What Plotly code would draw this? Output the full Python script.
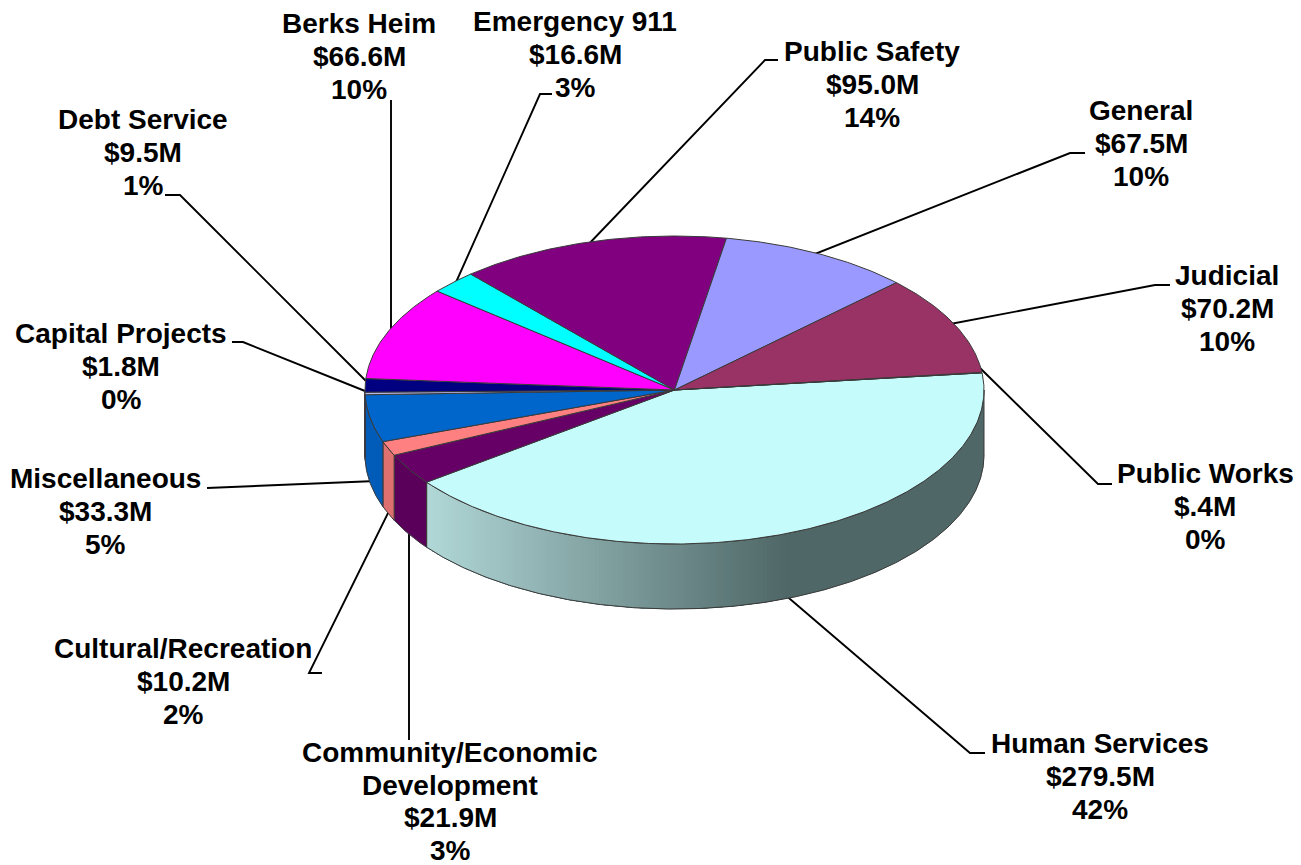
import numpy as np
import plotly.graph_objects as go

# ---- data (clockwise from Human Services) ----
categories = ["Human Services", "Community/Economic<br>Development", "Cultural/Recreation", "Miscellaneous",
              "Capital Projects", "Debt Service", "Berks Heim", "Emergency 911", "Public Safety", "General",
              "Judicial", "Public Works"]
values = [279.5, 21.9, 10.2, 33.3, 1.8, 9.5, 66.6, 16.6, 95.0, 67.5, 70.2, 0.4]
amounts = ["$279.5M", "$21.9M", "$10.2M", "$33.3M", "$1.8M", "$9.5M", "$66.6M", "$16.6M", "$95.0M",
           "$67.5M", "$70.2M", "$.4M"]
percents = ["42%", "3%", "2%", "5%", "0%", "1%", "10%", "3%", "14%", "10%", "10%", "0%"]

# ---- styles ----
top_colors = ["#C6FBFB", "#660066", "#FF8080", "#0066CC", "#B8B8E8", "#000080", "#FF00FF", "#00FFFF",
              "#800080", "#9999FF", "#993366", "#B0E0E0"]
wall_colors = ["#4F6767", "#5A005A", "#DF7070", "#005CB8", "#9090C0", "#000066", "#CC00CC", "#00CCCC",
               "#660066", "#7A7ACC", "#7A2850", "#4F6767"]
EDGE = "#3A3A3A"

# ---- pie geometry (pixels of the 1301x865 plot area) ----
CX, CY, RX, RY, DEPTH = 674.5, 390.0, 309.5, 154.0, 65.0
START_DEG = 83.6
LINE_PITCH = 32.6
FONT_SIZE = 28

label_pos = [(1100, 776.5), (450, 801.5), (183, 681.5), (105, 511.5), (121, 366.5), (143, 152.5),
             (359, 56.5), (575, 54.5), (872, 84.5), (1141, 143.5), (1227, 308.5), (1205, 506.5)]
leaders = [[(985, 753), (970, 753), (776, 587)],
           [(409, 740), (409, 525)],
           [(322, 673), (309, 673), (392, 505)],
           [(207, 488), (376, 481)],
           [(232, 342), (243, 342), (370, 393)],
           [(165, 195), (180, 195), (370, 385)],
           [(391, 100), (391, 340)],
           [(552, 94), (540, 94), (453, 289)],
           [(778, 60), (765, 60), (585, 248)],
           [(1085, 153), (1070, 153), (810, 256)],
           [(1170, 285), (1155, 285), (945, 325)],
           [(1112, 484), (1098, 484), (980, 368)]]


def ex(t):
    return CX + RX * np.sin(np.radians(t))


def ey(t, d=0.0):
    return CY - RY * np.cos(np.radians(t)) + d


def arc(a, b):
    return np.linspace(a, b, max(2, int(abs(b - a) * 2) + 2))


fig = go.Figure()


def poly(xs, ys, fill=None, line=None, width=1.0):
    fig.add_trace(go.Scatter(
        x=list(xs), y=list(ys), mode="lines",
        fill="toself" if fill else None, fillcolor=fill,
        line=dict(color=line or fill, width=width),
        hoverinfo="skip", showlegend=False))


for pts in leaders:
    poly([p[0] for p in pts], [p[1] for p in pts], line="#000000", width=1.9)

total = sum(values)
edges = START_DEG + np.cumsum([0] + [v / total * 360 for v in values])


def wall_shape(a, b):
    t = arc(a, b)
    xs = np.r_[ex(t), ex(t[::-1])]
    ys = np.r_[ey(t), ey(t[::-1], DEPTH)]
    return xs, ys


GRAD_LIGHT = np.array([178, 216, 216])
GRAD_DARK = np.array([79, 103, 103])
GRAD_X0, GRAD_X1 = 427.0, 790.0

for i in range(len(values)):
    a, b = max(edges[i], 90.0), min(edges[i + 1], 270.0)
    if b <= a:
        continue
    xs, ys = wall_shape(a, b)
    poly(xs, ys, fill=wall_colors[i], width=0.5)
    if i == 0:
        # shaded wall: solid dark at right, fading to light at left; strips overlap to avoid seams
        first = 180 - np.degrees(np.arcsin((GRAD_X1 - CX) / RX))
        for s in np.arange(first, b, 0.75):
            f = np.clip((ex(s) - GRAD_X0) / (GRAD_X1 - GRAD_X0), 0, 1)
            c = GRAD_LIGHT + (GRAD_DARK - GRAD_LIGHT) * f
            col = "rgb(%d,%d,%d)" % tuple(c)
            sx, sy = wall_shape(s, b)
            poly(sx, sy, fill=col, width=0)
    poly(np.r_[xs, xs[0]], np.r_[ys, ys[0]], line=EDGE, width=1.0)

for i in range(len(values)):
    t = arc(edges[i], edges[i + 1])
    poly(np.r_[CX, ex(t), CX], np.r_[CY, ey(t), CY], fill=top_colors[i], line=EDGE, width=1.0)

annotations = []
for i in range(len(values)):
    lines = categories[i].split("<br>") + [amounts[i], percents[i]]
    for k, text in enumerate(lines):
        annotations.append(dict(
            x=label_pos[i][0], y=label_pos[i][1] + (k - (len(lines) - 1) / 2) * LINE_PITCH,
            xref="x", yref="y", text="<b>%s</b>" % text,
            showarrow=False, xanchor="center", yanchor="middle", align="center",
            font=dict(family="Liberation Sans, Arial, sans-serif", size=FONT_SIZE, color="#000000")))

fig.update_layout(
    width=1301, height=865, autosize=False,
    margin=dict(l=0, r=0, t=0, b=0),
    paper_bgcolor="#FFFFFF", plot_bgcolor="#FFFFFF",
    xaxis=dict(range=[0, 1301], visible=False, fixedrange=True),
    yaxis=dict(range=[865, 0], visible=False, fixedrange=True),
    annotations=annotations, showlegend=False,
)
fig.write_html("out.html", config={"displayModeBar": False},
               post_script="document.body.style.margin='0';document.documentElement.style.overflow='hidden';")
